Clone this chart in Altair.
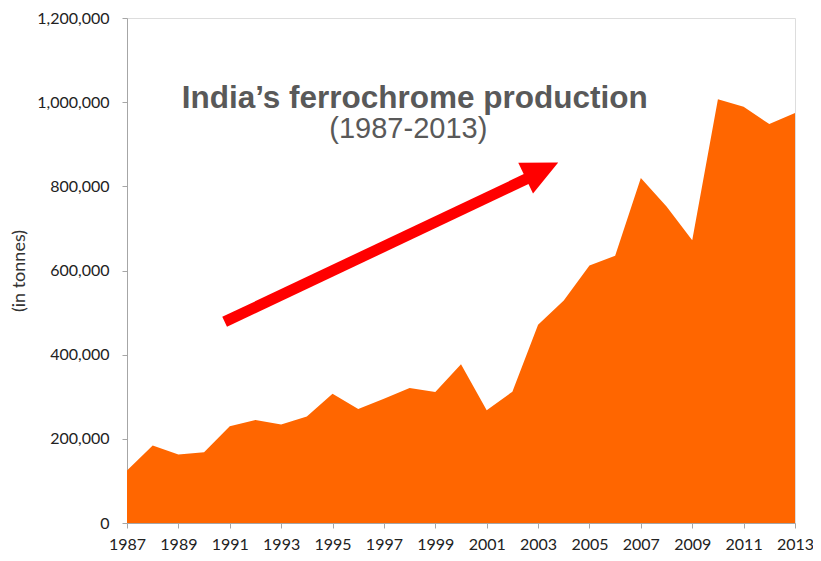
import altair as alt
import pandas as pd

years = list(range(1987, 2014))
production = [125000, 184000, 163000, 168000, 230000, 245000, 234000, 253000,
              307000, 271000, 295000, 321000, 311000, 377000, 268000, 312000,
              471000, 529000, 612000, 635000, 820000, 752000, 672000, 1007000,
              989000, 948000, 974000]
x_ticks = list(range(1987, 2014, 2))
y_ticks = [0, 200000, 400000, 600000, 800000, 1000000, 1200000]

# annotation arrow (data coordinates)
arrow_start = (1990.8, 478000)
arrow_base = (2002.7, 822000)
arrow_head = (2003.15, 838000)

title_text = "India\u2019s ferrochrome production"
subtitle_text = "(1987-2013)"

df = pd.DataFrame({"year": years, "production": production})

x_enc = alt.X("year:Q", scale=alt.Scale(domain=[1987, 2013], nice=False, zero=False),
              axis=alt.Axis(values=x_ticks, format="d", title=None, grid=False,
                            labelFontSize=16, labelPadding=8, tickSize=5,
                            labelOverlap=False, labelFlush=False,
                            labelFont="Lato", labelColor="#222222",
                            domainColor="#a6a6a6", tickColor="#a6a6a6"))
y_enc = alt.Y("production:Q", scale=alt.Scale(domain=[0, 1200000], nice=False),
              axis=alt.Axis(values=y_ticks, format=",d", title="(in tonnes)", grid=False,
                            labelFontSize=16, labelPadding=13, tickSize=5,
                            labelOverlap=False, labelFlush=False,
                            labelFont="Lato", labelColor="#222222",
                            titleFont="Lato", titleFontSize=18, titleFontWeight="normal",
                            titleColor="#333333", titlePadding=8,
                            domainColor="#a6a6a6", tickColor="#a6a6a6"))

area = alt.Chart(df).mark_area(color="#FF6600", opacity=1).encode(x=x_enc, y=y_enc)

shaft_df = pd.DataFrame({"x": [arrow_start[0]], "y": [arrow_start[1]],
                         "x2": [arrow_base[0]], "y2": [arrow_base[1]]})
shaft = alt.Chart(shaft_df).mark_rule(color="#FF0000", strokeWidth=11, strokeCap="butt").encode(
    x="x:Q", y="y:Q", x2="x2:Q", y2="y2:Q")

head_df = pd.DataFrame({"x": [arrow_head[0]], "y": [arrow_head[1]]})
head = alt.Chart(head_df).mark_point(
    shape="M -1 -0.95 L 1 0 L -1 0.95 Z", filled=True, color="#FF0000",
    opacity=1, size=1300, angle=334.5, strokeWidth=0).encode(x="x:Q", y="y:Q")

text_df = pd.DataFrame({"x": [1998.2, 1997.95], "y": [986000, 914000],
                        "t": [title_text, subtitle_text]})
title = alt.Chart(text_df.iloc[[0]]).mark_text(
    font="Liberation Sans", fontSize=31.5, fontWeight="bold", color="#595959",
    align="center", baseline="alphabetic").encode(x="x:Q", y="y:Q", text="t:N")
subtitle = alt.Chart(text_df.iloc[[1]]).mark_text(
    font="Liberation Sans", fontSize=29, fontWeight="normal", color="#595959",
    align="center", baseline="alphabetic").encode(x="x:Q", y="y:Q", text="t:N")

chart = alt.layer(area, shaft, head, title, subtitle).properties(
    width=668, height=505, autosize="none",
    padding={"left": 119, "top": 10, "right": 18, "bottom": 30},
).configure_view(stroke=None).configure(background="white")

chart.save("out.html", embed_options={"renderer": "svg", "actions": False})
